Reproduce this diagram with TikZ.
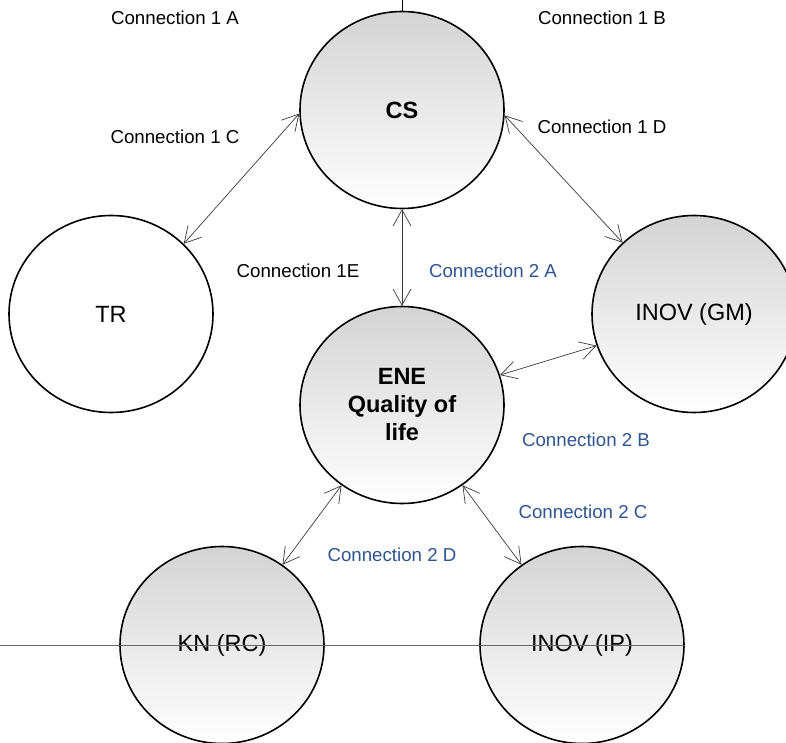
\documentclass[tikz,border=0pt]{standalone}
\usepackage{fontspec}
\setmainfont{Liberation Sans}
\usetikzlibrary{shapes.geometric,arrows.meta}
\definecolor{lblblue}{HTML}{2E5591}
\definecolor{linegray}{HTML}{3A3A3A}
\tikzset{
  bubble/.style={ellipse, draw=black, line width=1.6pt, minimum width=204pt, minimum height=197pt, inner sep=0pt,
    font=\fontsize{23.5}{28}\selectfont, align=center},
  shaded bubble/.style={bubble, top color=black!17, bottom color=white},
  link/.style={draw=linegray, line width=0.7pt, {Straight Barb[length=16pt,width=18pt,line width=0.7pt]}-{Straight Barb[length=16pt,width=18pt,line width=0.7pt]}},
  lbl/.style={font=\fontsize{18.7}{22}\selectfont, inner sep=0pt},
  bluelbl/.style={lbl, text=lblblue}
}
\begin{document}
\begin{tikzpicture}[x=1pt,y=-1pt]
\useasboundingbox (0,0) rectangle (786,743);
\clip (0,0) rectangle (786,743);
% circles
\node[shaded bubble, font=\fontsize{23.5}{28}\selectfont\bfseries] (cs) at (402,110) {CS};
\node[bubble, fill=white] (tr) at (111,314) {TR};
\node[shaded bubble] (gm) at (694,314) {INOV (GM)};
\node[shaded bubble, font=\fontsize{23.5}{28}\selectfont\bfseries] (ene) at (402,405) {\rule{0pt}{6pt}ENE\\Quality of\\life};
\node[shaded bubble] (kn) at (222,645) {KN (RC)};
\node[shaded bubble] (ip) at (582,645) {INOV (IP)};
% lines
\coordinate (topend) at (402,0);
\draw[line width=0.8pt] (topend) -- (cs.north);
\coordinate (hl) at (0,645);
\draw[draw=black!60, line width=1pt] (hl) -- (ip.east);
% connectors
\draw[link] (cs.182) -- (tr.44);
\draw[link] (cs.357) -- (gm.135);
\draw[link] (cs.270) -- (ene.90);
\draw[link] (ene.17) -- (gm.198);
\draw[link] (ene.233) -- (kn.53);
\draw[link] (ene.307) -- (ip.127);
% labels
\node[lbl] (l1a) at (175,18) {Connection 1 A};
\node[lbl] (l1b) at (602,18) {Connection 1 B};
\node[lbl] (l1c) at (175,137) {Connection 1 C};
\node[lbl] (l1d) at (602,127) {Connection 1 D};
\node[lbl] (l1e) at (298,271) {Connection 1E};
\node[bluelbl] (l2a) at (493,271) {Connection 2 A};
\node[bluelbl] (l2b) at (586,440) {Connection 2 B};
\node[bluelbl] (l2c) at (583,512) {Connection 2 C};
\node[bluelbl] (l2d) at (392,555) {Connection 2 D};
\end{tikzpicture}
\end{document}
